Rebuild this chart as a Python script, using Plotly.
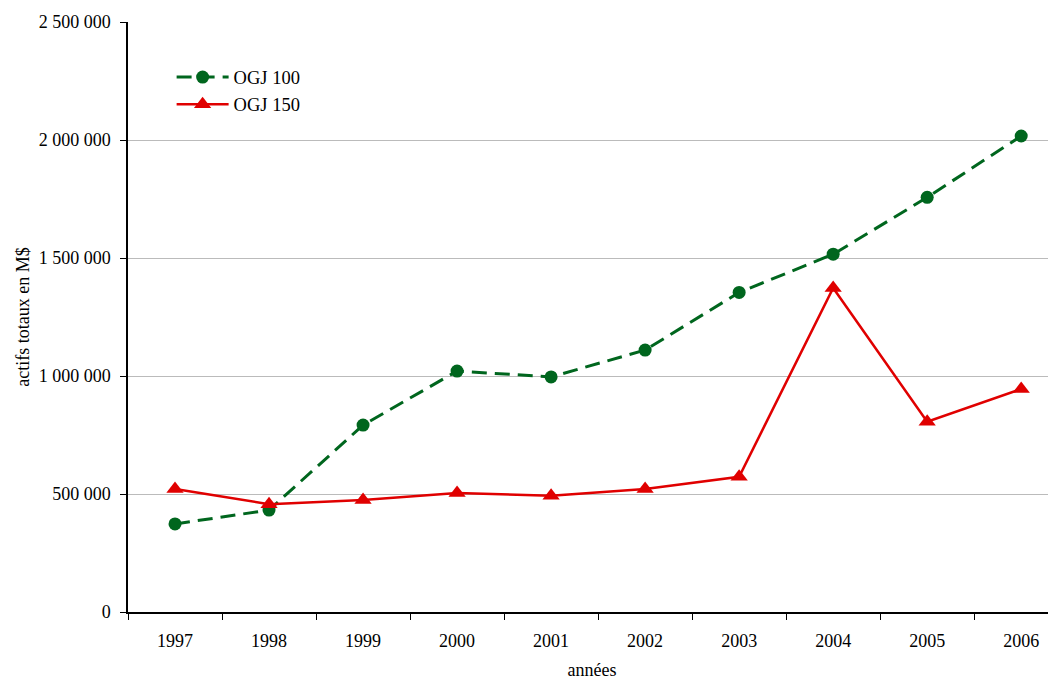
import plotly.graph_objects as go

# years and total assets (M$)
years = ["1997", "1998", "1999", "2000", "2001", "2002", "2003", "2004", "2005", "2006"]
ogj_100 = [373000, 432000, 792000, 1021000, 996000, 1110000, 1354000, 1516000, 1757000, 2017000]
ogj_150 = [521000, 457000, 475000, 504000, 493000, 521000, 573000, 1373000, 806000, 945000]

y_ticks = [0, 500000, 1000000, 1500000, 2000000, 2500000]

font_name = "Liberation Serif, Times New Roman, serif"

fig = go.Figure()

fig.add_trace(go.Scatter(
    x=years, y=ogj_100, name="OGJ 100", mode="lines+markers",
    legendgroup="a",
    line=dict(color="#00661E", width=3, dash="15px,8px"),
    marker=dict(symbol="circle", size=13, color="#00661E"),
))
fig.add_trace(go.Scatter(
    x=years, y=ogj_150, name="OGJ 150", mode="lines+markers",
    legendgroup="b",
    line=dict(color="#E00000", width=2.5),
    marker=dict(symbol="triangle-up", size=15, color="#E00000"),
))

# page body has an 8px margin, so the figure is a bit smaller and shifted
fig.update_layout(
    width=1048, height=672,
    margin=dict(l=120, r=0, t=14, b=68),
    paper_bgcolor="white", plot_bgcolor="white",
    font=dict(family=font_name, size=18, color="black"),
    separators=", ",
    showlegend=True,
    legend=dict(
        x=0.047, y=0.938, xanchor="left", yanchor="top",
        bgcolor="rgba(0,0,0,0)", itemwidth=52,
        traceorder="grouped", tracegroupgap=0,
        font=dict(family=font_name, size=18.5),
    ),
)

fig.update_xaxes(
    type="category", range=[-0.5, 9.37], automargin=False,
    tickson="boundaries", ticks="outside", ticklen=6, tickcolor="black",
    ticklabelstandoff=12,
    showline=True, linecolor="black", linewidth=1.5,
    showgrid=False,
    title=dict(text="années", font=dict(size=18), standoff=20),
)

fig.update_yaxes(
    range=[0, 2500000], tickvals=y_ticks, tickformat=",d", automargin=False,
    ticks="outside", ticklen=6, tickcolor="black",
    ticklabelstandoff=6,
    showline=True, linecolor="black", linewidth=1.5,
    showgrid=True, gridcolor="#BBBBBB", gridwidth=1,
    zeroline=False,
    title=dict(text="actifs totaux en M$", font=dict(size=18), standoff=4),
)

fig.write_html("out.html")
